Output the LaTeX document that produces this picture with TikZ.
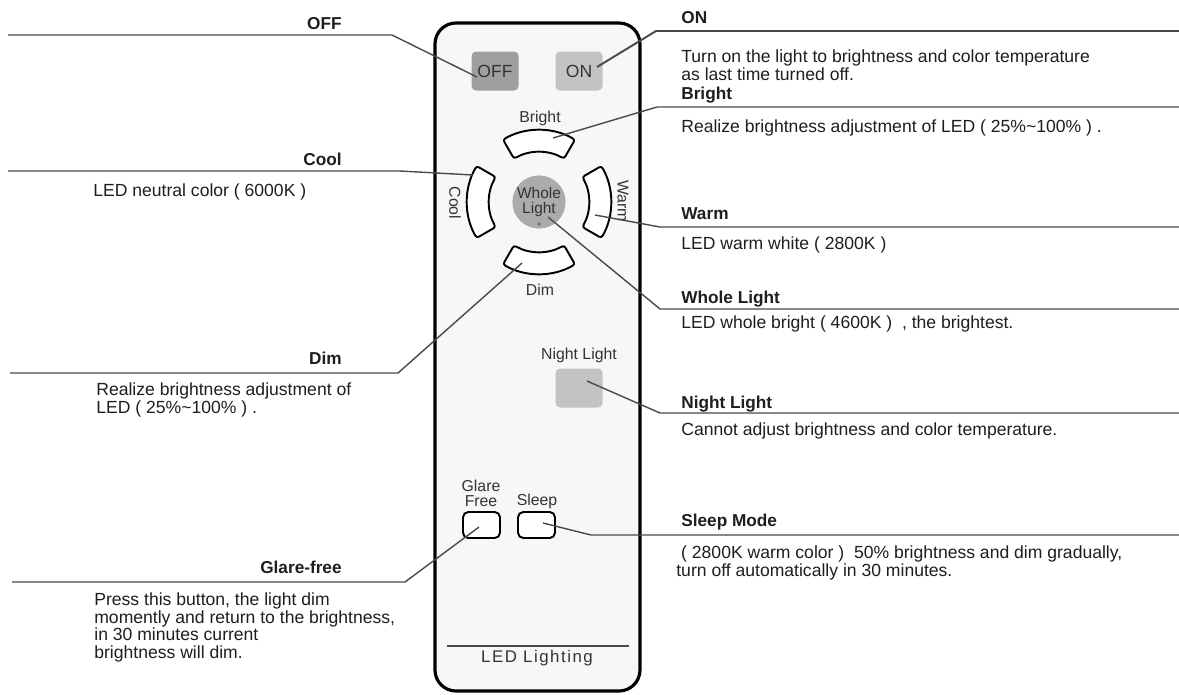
\documentclass[tikz,border=0pt]{standalone}
\usepackage{fontspec}
\setmainfont{Liberation Sans}
\usetikzlibrary{positioning,calc}

\definecolor{ink}{HTML}{1E1E1E}
\definecolor{leadgray}{HTML}{4A4A4A}
\definecolor{shellfill}{HTML}{F7F7F7}
\definecolor{offgray}{HTML}{9F9F9F}
\definecolor{keygray}{HTML}{C3C3C3}
\definecolor{wlgray}{HTML}{ABABAB}

\begin{document}
\begin{tikzpicture}[x=0.02cm, y=-0.02cm,
    font=\fontsize{10}{10}\selectfont, text=ink,
    lead/.style={draw=leadgray, line width=0.8pt},
    tag/.style={font=\fontsize{9.8}{10}\selectfont\bfseries, inner sep=0pt},
    desc/.style={align=left, inner sep=0pt, anchor=north west},
    keycap/.style={rounded corners=2.5pt, inner sep=0pt, minimum width=0.94cm, minimum height=0.78cm, font=\fontsize{10}{10}\selectfont, text=black!80},
    smallkey/.style={draw=black, line width=1.1pt, fill=white, rounded corners=3pt, minimum width=0.74cm, minimum height=0.52cm},
    ringkey/.style={draw=black, line width=1.1pt, fill=white, rounded corners=1.5pt},
    pad/.style={font=\fontsize{9}{9.5}\selectfont, inner sep=0pt, text=black!80},
  ]
    \fill[white] (0,0) rectangle (1179,694);
    \useasboundingbox (0,0) rectangle (1179,694);

    % --- remote body ---
    \draw[line width=1.8pt, fill=shellfill, rounded corners=0.42cm] (435,23) rectangle (640,691);

    % top keys
    \node[keycap, fill=offgray] (off) at (495,71) {OFF};
    \node[keycap, fill=keygray] (on) at (579,71) {ON};

    % ring keys round the centre key
    \begin{scope}[shift={(539,202)}]
      \foreach \a in {-90,0,90,180}{
        \pgfmathsetmacro\lo{\a-30}\pgfmathsetmacro\hi{\a+30}
        \draw[ringkey] (\lo:72) arc[start angle=\lo, end angle=\hi, radius=72]
          -- (\hi:50) arc[start angle=\hi, end angle=\lo, radius=50] -- cycle;
      }
    \end{scope}
    \node[circle, fill=wlgray, minimum size=1cm, inner sep=0pt, align=center,
      font=\fontsize{8.8}{9}\selectfont, text=black!80] (whole) at (539,202) {Whole\\Light};
    \fill[black!55] (539,224) circle (1.1pt);

    \node[pad] (brighttxt) at (540,118) {Bright};
    \node[pad] (dimtxt) at (540,290) {Dim};
    \node[pad, rotate=-90] (cooltxt) at (455,203) {Cool};
    \node[pad, rotate=-90] (warmtxt) at (623,201) {Warm};

    % night light, glare free, sleep
    \node[pad] (nighttxt) at (579,355) {Night Light};
    \node[keycap, fill=keygray] (night) at (579,388) {};
    \node[pad, align=center, font=\fontsize{9}{8.6}\selectfont] (glaretxt) at (481,493) {Glare\\Free};
    \node[pad] (sleeptxt) at (537,501) {Sleep};
    \node[smallkey] (glare) at (481.5,525) {};
    \node[smallkey] (sleep) at (536.5,525) {};

    % brand strip
    \draw[leadgray, line width=0.8pt] (447,646) -- (629,646);
    \node[pad, font=\fontsize{9.6}{10}\selectfont\addfontfeature{LetterSpace=9}] (brand) at (537,658) {LED Lighting};

    % --- left callouts ---
    \node[tag, anchor=base east] (offtag) at (342,29.5) {OFF};
    \node[tag, anchor=base east] (cooltag) at (342,165.5) {Cool};
    \node[desc] (cooldesc) at (93,183.5) {LED neutral color ( 6000K )};
    \node[tag, anchor=base east] (dimtag) at (342,364.5) {Dim};
    \node[desc] (dimdesc) at (96,382.5) {Realize brightness adjustment of\\LED ( 25\%\textasciitilde100\% ) .};
    \node[tag, anchor=base east] (glaretag) at (342,573.5) {Glare-free};
    \node[desc] (glaredesc) at (94,592.5) {Press this button, the light dim\\momently and return to the brightness,\\in 30 minutes current\\brightness will dim.};

    \coordinate (offP) at (477,77);  \coordinate (offK) at (392,35);  \coordinate (offE) at (8,35);
    \coordinate (coolP) at (473,175); \coordinate (coolK) at (400,171); \coordinate (coolE) at (8,171);
    \coordinate (dimP) at (522,263);  \coordinate (dimK) at (398,373);  \coordinate (dimE) at (10,373);
    \coordinate (glareP) at (479,527); \coordinate (glareK) at (405,582); \coordinate (glareE) at (12,582);
    \draw[lead] (offE) -- (offK) -- (offP);
    \draw[lead] (coolE) -- (coolK) -- (coolP);
    \draw[lead] (dimE) -- (dimK) -- (dimP);
    \draw[lead] (glareE) -- (glareK) -- (glareP);

    % --- right callouts ---
    \node[tag, anchor=base west] (ontag) at (681,23.5) {ON};
    \node[desc] (ondesc) at (681,49.5) {Turn on the light to brightness and color temperature\\as last time turned off.};
    \node[tag, anchor=base west] (brighttag) at (681,99.5) {Bright};
    \node[desc] (brightdesc) at (681,119.5) {Realize brightness adjustment of LED ( 25\%\textasciitilde100\% ) .};
    \node[tag, anchor=base west] (warmtag) at (681,219.5) {Warm};
    \node[desc] (warmdesc) at (681,236.5) {LED warm white ( 2800K )};
    \node[tag, anchor=base west] (wholetag) at (681,303.5) {Whole Light};
    \node[desc] (wholedesc) at (681,315.5) {LED whole bright ( 4600K ) \ , the brightest.};
    \node[tag, anchor=base west] (nighttag) at (681,408.5) {Night Light};
    \node[desc] (nightdesc) at (681,422.5) {Cannot adjust brightness and color temperature.};
    \node[tag, anchor=base west] (sleeptag) at (681,526.5) {Sleep Mode};
    \node[desc] (sleepdesc) at (676,545.5) {\ ( 2800K warm color ) \ 50\% brightness and dim gradually,\\turn off automatically in 30 minutes.};

    \coordinate (onP) at (597,67);     \coordinate (onK) at (656,31);     \coordinate (onE) at (1179,31);
    \coordinate (brightP) at (553,138); \coordinate (brightK) at (657,107); \coordinate (brightE) at (1179,107);
    \coordinate (warmP) at (595,215);  \coordinate (warmK) at (660,227);  \coordinate (warmE) at (1179,227);
    \coordinate (wholeP) at (548,217); \coordinate (wholeK) at (660,309); \coordinate (wholeE) at (1179,309);
    \coordinate (nightP) at (587,381); \coordinate (nightK) at (660,413); \coordinate (nightE) at (1179,413);
    \coordinate (sleepP) at (543,523); \coordinate (sleepK) at (591,535); \coordinate (sleepE) at (1179,535);
    \draw[lead, line width=1.1pt] (onP) -- (onK) -- (onE);
    \draw[lead] (brightP) -- (brightK) -- (brightE);
    \draw[lead] (warmP) -- (warmK) -- (warmE);
    \draw[lead] (wholeP) -- (wholeK) -- (wholeE);
    \draw[lead] (nightP) -- (nightK) -- (nightE);
    \draw[lead] (sleepP) -- (sleepK) -- (sleepE);
\end{tikzpicture}
\end{document}
